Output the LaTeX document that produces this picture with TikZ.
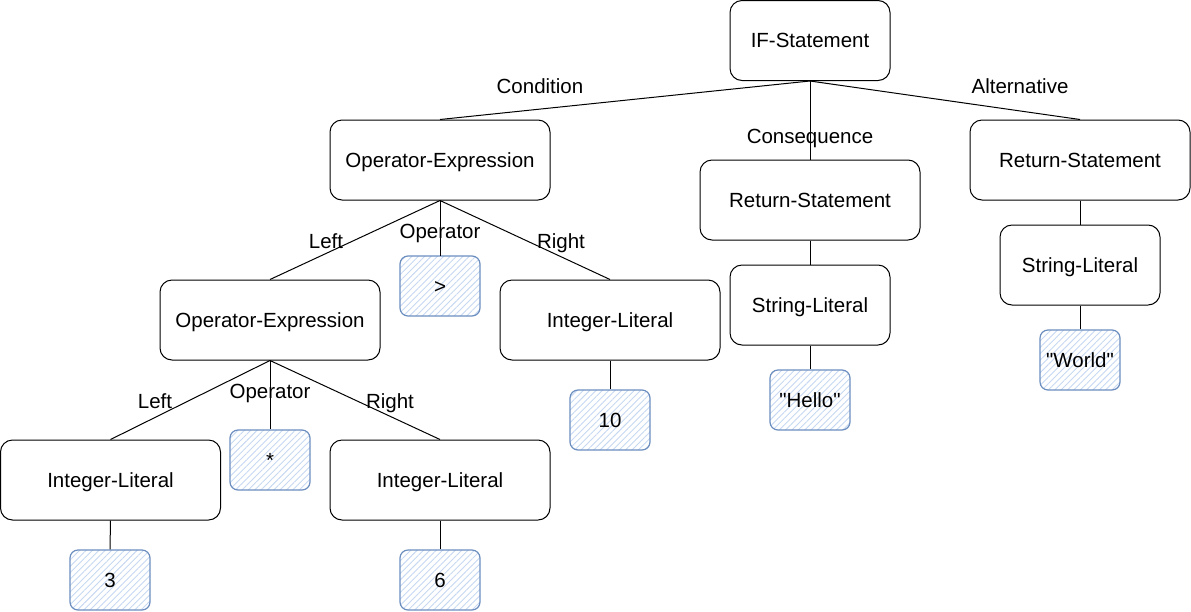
\documentclass[tikz,border=0pt]{standalone}
\usepackage{fontspec}
\setmainfont{Liberation Sans}[Ligatures=TeXOff]
\usetikzlibrary{patterns.meta}
\definecolor{hatchc}{HTML}{C6D8F2}
\definecolor{hborder}{HTML}{6C8EBF}
\begin{document}
\begin{tikzpicture}[x=1pt,y=-1pt,
  txt/.style={font=\fontsize{20.5}{24}\selectfont, text height=14.7pt, text depth=0.7pt},
  box/.style={txt, draw=black, line width=1pt, rounded corners=12pt, minimum width=220pt, minimum height=80pt, fill=white, inner sep=0pt},
  sbox/.style={box, minimum width=160pt},
  hbox/.style={txt, draw=hborder, line width=1.2pt, rounded corners=8pt, minimum width=80pt, minimum height=60pt, inner sep=0pt,
    pattern={Lines[angle=45,distance=4.5pt,line width=0.9pt]}, pattern color=hatchc},
  lbl/.style={txt, inner sep=1pt},
  conn/.style={draw=black, line width=1pt}]
\useasboundingbox (0,0) rectangle (1191,611);
% nodes
\node[sbox] (if) at (810,40.5) {IF-Statement};
\node[box] (op1) at (440,160) {Operator-Expression};
\node[box] (ret1) at (810,200) {Return-Statement};
\node[box] (ret2) at (1080,160) {Return-Statement};
\node[hbox] (gt) at (440,286) {>};
\node[box] (op2) at (270,320) {Operator-Expression};
\node[box] (int10) at (610,320) {Integer-Literal};
\node[sbox] (str1) at (810,305) {String-Literal};
\node[sbox] (str2) at (1080,265) {String-Literal};
\node[hbox] (world) at (1080,360) {"World"};
\node[hbox] (hello) at (810,400) {"Hello"};
\node[hbox] (ten) at (610,420) {10};
\node[box] (int3) at (110.5,480) {Integer-Literal};
\node[hbox] (mul) at (270,460) {*};
\node[box] (int6) at (440,480) {Integer-Literal};
\node[hbox] (three) at (110,580) {3};
\node[hbox] (six) at (440,580) {6};
% connectors
\draw[conn] (if.south) -- (ret1.north);
\draw[conn] (op1.south) -- (gt.north);
\draw[conn] (op2.south) -- (mul.north);
\draw[conn] (if.south) -- (op1.north);
\draw[conn] (if.south) -- (ret2.north);
\draw[conn] (op1.south) -- (op2.north);
\draw[conn] (op1.south) -- (int10.north);
\draw[conn] (op2.south) -- (int3.north);
\draw[conn] (op2.south) -- (int6.north);
\draw[conn] (int3.south) -- (three.north);
\draw[conn] (int6.south) -- (six.north);
\draw[conn] (int10.south) -- (ten.north);
\draw[conn] (ret1.south) -- (str1.north);
\draw[conn] (str1.south) -- (hello.north);
\draw[conn] (ret2.south) -- (str2.north);
\draw[conn] (str2.south) -- (world.north);
% labels
\node[lbl] (lcons) at (810,136) {Consequence};
\node[lbl] (lop1) at (440,231) {Operator};
\node[lbl] (lop2) at (270,391) {Operator};
\node[lbl] (lcond) at (540,86) {Condition};
\node[lbl] (lalt) at (1020,86) {Alternative};
\node[lbl] (lleft1) at (326,241) {Left};
\node[lbl] (lright1) at (561,241) {Right};
\node[lbl] (lleft2) at (155,401) {Left};
\node[lbl] (lright2) at (390,401) {Right};
\end{tikzpicture}
\end{document}
